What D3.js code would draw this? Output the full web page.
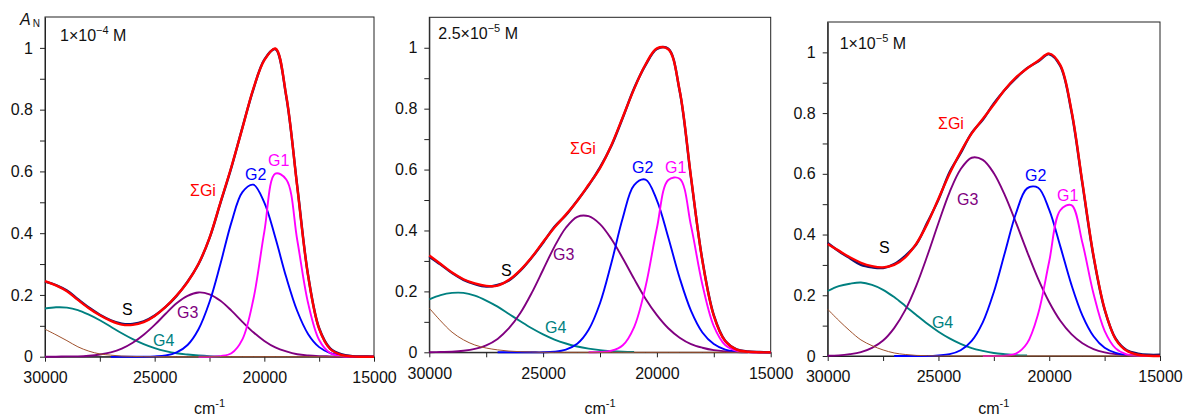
<!DOCTYPE html>
<html>
<head>
<meta charset="utf-8">
<script src="https://cdn.jsdelivr.net/npm/d3@7"></script>
<style>
  body { margin: 0; background: #fff; }
  text { font-family: "Liberation Sans", Arial, sans-serif; }
</style>
</head>
<body>
<script>
// wavenumber grid, cm-1
const xs = [30000, 29500, 29000, 28500, 28000, 27500, 27000, 26500, 26000, 25500,
  25000, 24500, 24000, 23500, 23000, 22500, 22000, 21500, 21000, 20500,
  20000, 19500, 19000, 18500, 18000, 17500, 17000, 16500, 16000, 15500, 15000];

const xTicks = [30000, 25000, 20000, 15000];
const xMinor = [27500, 22500, 17500];
const yTicks = [0, 0.2, 0.4, 0.6, 0.8, 1];
const yMinor = [0.1, 0.3, 0.5, 0.7, 0.9];

// 1e-4 M
const s1 = [0.243, 0.232, 0.214, 0.186, 0.159, 0.136, 0.118, 0.107, 0.106, 0.114, 0.133, 0.161, 0.197, 0.243, 0.300, 0.384, 0.498, 0.613, 0.742, 0.866, 0.962, 0.996, 0.842, 0.553, 0.262, 0.092, 0.027, 0.008, 0.002, 0.001, 0];
const sum1 = [0.245, 0.231, 0.212, 0.184, 0.157, 0.134, 0.116, 0.104, 0.103, 0.112, 0.132, 0.161, 0.198, 0.242, 0.301, 0.385, 0.500, 0.615, 0.740, 0.868, 0.960, 0.998, 0.845, 0.550, 0.260, 0.090, 0.025, 0.006, 0.001, 0, 0];
const g1_1 = [null, null, null, null, null, null, null, null, null, null, null, null, null, null, 0, 0, 0.002, 0.011, 0.056, 0.186, 0.405, 0.593, 0.574, 0.378, 0.172, 0.054, 0.012, 0.002, 0, 0, 0];
const g2_1 = [null, null, null, null, null, null, 0, 0, 0, 0, 0.001, 0.004, 0.014, 0.038, 0.089, 0.177, 0.301, 0.435, 0.533, 0.557, 0.499, 0.386, 0.257, 0.148, 0.073, 0.031, 0.012, 0.004, 0.001, 0, 0];
const g3_1 = [0, 0, 0.001, 0.001, 0.003, 0.007, 0.014, 0.026, 0.045, 0.071, 0.103, 0.139, 0.173, 0.197, 0.208, 0.202, 0.181, 0.149, 0.113, 0.079, 0.051, 0.030, 0.017, 0.008, 0.004, 0.002, 0.001, 0, 0, null, null];
const g4_1 = [0.156, 0.160, 0.159, 0.151, 0.136, 0.118, 0.097, 0.076, 0.057, 0.041, 0.028, 0.018, 0.011, 0.007, 0.004, 0.002, 0.001, null, null, null, null, null, null, null, null, null, null, null, null, null, null];
const br1 = [0.089, 0.071, 0.052, 0.032, 0.018, 0.009, 0.005, 0.002, 0.001, 0, 0, 0, 0, 0, 0, 0, 0, 0, 0, 0, 0, 0, 0, 0, 0, 0, 0, 0, 0, 0, 0];

// 2.5e-5 M
const s2 = [0.314, 0.288, 0.260, 0.238, 0.224, 0.216, 0.221, 0.236, 0.268, 0.311, 0.360, 0.412, 0.450, 0.498, 0.548, 0.607, 0.678, 0.770, 0.867, 0.943, 0.996, 0.997, 0.858, 0.572, 0.302, 0.122, 0.038, 0.010, 0.003, 0.001, 0];
const sum2 = [0.318, 0.290, 0.262, 0.240, 0.226, 0.218, 0.219, 0.238, 0.270, 0.312, 0.362, 0.410, 0.452, 0.497, 0.550, 0.605, 0.680, 0.772, 0.865, 0.945, 0.998, 0.995, 0.860, 0.575, 0.300, 0.120, 0.037, 0.009, 0.002, 0, 0];
const g1_2 = [null, null, null, null, null, null, null, null, null, null, null, null, null, null, 0, 0.001, 0.005, 0.023, 0.083, 0.215, 0.408, 0.566, 0.570, 0.415, 0.222, 0.086, 0.024, 0.005, 0.001, 0, 0];
const g2_2 = [null, null, null, null, null, null, 0, 0, 0, 0, 0, 0.002, 0.009, 0.028, 0.074, 0.161, 0.293, 0.441, 0.549, 0.567, 0.499, 0.377, 0.244, 0.136, 0.065, 0.027, 0.009, 0.003, 0.001, 0, 0];
const g3_2 = [0, 0.001, 0.002, 0.005, 0.011, 0.023, 0.044, 0.079, 0.129, 0.195, 0.271, 0.347, 0.409, 0.445, 0.447, 0.421, 0.372, 0.309, 0.241, 0.176, 0.122, 0.079, 0.048, 0.027, 0.015, 0.007, 0.003, 0.001, 0, null, null];
const g4_2 = [0.174, 0.188, 0.195, 0.195, 0.186, 0.170, 0.150, 0.126, 0.102, 0.079, 0.059, 0.042, 0.029, 0.019, 0.012, 0.007, 0.004, 0.002, 0.001, null, null, null, null, null, null, null, null, null, null, null, null];
const br2 = [0.145, 0.103, 0.066, 0.041, 0.024, 0.014, 0.008, 0.004, 0.002, 0.001, 0, 0, 0, 0, 0, 0, 0, 0, 0, 0, 0, 0, 0, 0, 0, 0, 0, 0, 0, 0, 0];

// 1e-5 M
const s3 = [0.372, 0.345, 0.322, 0.300, 0.292, 0.290, 0.303, 0.330, 0.368, 0.440, 0.515, 0.605, 0.668, 0.735, 0.778, 0.832, 0.877, 0.915, 0.948, 0.970, 0.994, 0.955, 0.806, 0.566, 0.327, 0.153, 0.057, 0.019, 0.008, 0.004, 0.004];
const sum3 = [0.369, 0.347, 0.325, 0.307, 0.296, 0.292, 0.300, 0.325, 0.370, 0.436, 0.518, 0.600, 0.672, 0.733, 0.781, 0.828, 0.878, 0.918, 0.947, 0.972, 0.996, 0.958, 0.810, 0.570, 0.330, 0.155, 0.055, 0.017, 0.004, 0.001, 0];
const g1_3 = [null, null, null, null, null, null, null, null, null, null, null, null, null, null, 0, 0, 0.001, 0.008, 0.042, 0.139, 0.312, 0.480, 0.497, 0.372, 0.205, 0.083, 0.025, 0.005, 0.001, 0, 0];
const g2_3 = [null, null, null, null, null, null, 0, 0, 0, 0, 0.002, 0.006, 0.019, 0.050, 0.111, 0.211, 0.341, 0.470, 0.552, 0.554, 0.481, 0.361, 0.235, 0.133, 0.065, 0.027, 0.010, 0.003, 0.001, 0, 0];
const g3_3 = [0.001, 0.002, 0.006, 0.013, 0.027, 0.051, 0.092, 0.151, 0.232, 0.331, 0.438, 0.539, 0.615, 0.653, 0.646, 0.602, 0.529, 0.439, 0.344, 0.254, 0.177, 0.116, 0.072, 0.042, 0.023, 0.012, 0.006, 0.003, 0.001, 0, null];
const g4_3 = [0.214, 0.230, 0.238, 0.242, 0.234, 0.218, 0.194, 0.165, 0.135, 0.106, 0.080, 0.058, 0.040, 0.026, 0.017, 0.010, 0.006, 0.003, 0.002, null, null, null, null, null, null, null, null, null, null, null, null];
const br3 = [0.154, 0.117, 0.083, 0.053, 0.034, 0.020, 0.010, 0.005, 0.002, 0.001, 0, 0, 0, 0, 0, 0, 0, 0, 0, 0, 0, 0, 0, 0, 0, 0, 0, 0, 0, 0, 0];

const concs = [['1×10', '−4'], ['2.5×10', '−5'], ['1×10', '−5']];

// curve labels, anchored in data coords [text, wavenumber, A]
const labels1 = [['S', 26489, 0.135], ['ΣGi', 23388, 0.521], ['G2', 20880, 0.572], ['G1', 19831, 0.618], ['G3', 23981, 0.125], ['G4', 25075, 0.035]];
const labels2 = [['S', 26850, 0.251], ['ΣGi', 23818, 0.652], ['G2', 21094, 0.59], ['G1', 19644, 0.59], ['G3', 24565, 0.304], ['G4', 24917, 0.063]];
const labels3 = [['S', 27684, 0.34], ['ΣGi', 25020, 0.748], ['G3', 24163, 0.498], ['G2', 21093, 0.577], ['G1', 19648, 0.511], ['G4', 25296, 0.092]];

// key order = drawing order
const style = {
  g4: { color: '#008080', w: 1.9 },
  g3: { color: '#800080', w: 1.9 },
  g2: { color: '#0000ff', w: 1.9 },
  g1: { color: '#ff00ff', w: 1.9 },
  br: { color: '#a0522d', w: 1 },
  s: { color: '#14146e', w: 2.4 },
  sum: { color: '#ff0000', w: 2.4 },
};
const labelColor = { S: '#000', 'ΣGi': '#ff0000', G1: '#ff00ff', G2: '#0000ff', G3: '#800080', G4: '#008080' };

const panels = [
  { box: [45, 374, 17, 356.7], conc: concs[0], concAt: [15, 24], labels: labels1,
    series: { g4: g4_1, g3: g3_1, g2: g2_1, g1: g1_1, br: br1, s: s1, sum: sum1 } },
  { box: [429.3, 770.7, 17.3, 352.3], conc: concs[1], concAt: [9, 22], labels: labels2,
    series: { g4: g4_2, g3: g3_2, g2: g2_2, g1: g1_2, br: br2, s: s2, sum: sum2 } },
  { box: [827.7, 1160, 22, 356], conc: concs[2], concAt: [12, 27], labels: labels3,
    series: { g4: g4_3, g3: g3_3, g2: g2_3, g1: g1_3, br: br3, s: s3, sum: sum3 } },
];

const svg = d3.select('body').append('svg')
  .attr('width', 1186)
  .attr('height', 418);

panels.forEach((p, i) => {
  const [left, right, top, bottom] = p.box;
  const x = d3.scaleLinear().domain([30000, 15000]).range([left, right]);
  const y = d3.scaleLinear().domain([0, 1.1]).range([bottom, top]);
  const g = svg.append('g');

  // frame
  g.append('rect')
    .attr('x', left).attr('y', top)
    .attr('width', right - left).attr('height', bottom - top)
    .attr('fill', 'none').attr('stroke', '#222').attr('stroke-width', 1);

  // minor ticks
  g.append('g').attr('transform', `translate(0,${bottom})`)
    .call(d3.axisBottom(x).tickValues(xMinor).tickSize(5).tickFormat(''))
    .call((a) => a.select('.domain').remove());
  g.append('g').attr('transform', `translate(${left},0)`)
    .call(d3.axisLeft(y).tickValues(yMinor).tickSize(5).tickFormat(''))
    .call((a) => a.select('.domain').remove());

  // major ticks
  g.append('g').attr('transform', `translate(0,${bottom})`)
    .call(d3.axisBottom(x).tickValues(xTicks).tickSize(5).tickPadding(10).tickSizeOuter(0)
      .tickFormat(d3.format('d')))
    .call((a) => a.selectAll('text').style('font-size', '16px').attr('fill', '#111'));
  g.append('g').attr('transform', `translate(${left},0)`)
    .call(d3.axisLeft(y).tickValues(yTicks).tickSize(5).tickPadding(7).tickSizeOuter(0)
      .tickFormat(d3.format('~g')))
    .call((a) => a.selectAll('text').style('font-size', '16px').attr('fill', '#111'));
  g.selectAll('.tick line, .domain').attr('stroke', '#222');

  // curves
  const line = d3.line()
    .defined((d) => d[1] != null)
    .x((d) => x(d[0]))
    .y((d) => y(d[1]))
    .curve(d3.curveCatmullRom.alpha(0.5));

  Object.keys(style).forEach((k) => {
    const vals = p.series[k];
    g.append('path')
      .datum(xs.map((v, j) => [v, vals[j]]))
      .attr('d', line)
      .attr('fill', 'none')
      .attr('stroke', style[k].color)
      .attr('stroke-width', style[k].w)
      .attr('stroke-linejoin', 'round');
  });

  // curve labels
  g.selectAll('text.lab')
    .data(p.labels)
    .enter()
    .append('text')
    .classed('lab', true)
    .attr('x', (d) => x(d[1]))
    .attr('y', (d) => y(d[2]))
    .attr('fill', (d) => labelColor[d[0]])
    .style('font-size', '16px')
    .text((d) => d[0]);

  // concentration
  const c = g.append('text')
    .attr('x', left + p.concAt[0])
    .attr('y', top + p.concAt[1])
    .style('font-size', '16px')
    .attr('fill', '#111');
  c.append('tspan').text(p.conc[0]);
  c.append('tspan').attr('dy', -7).style('font-size', '11px').text(p.conc[1]);
  c.append('tspan').attr('dy', 7).text(' M');

  // x axis title
  const t = g.append('text')
    .attr('x', (left + right) / 2)
    .attr('y', 414)
    .attr('text-anchor', 'middle')
    .style('font-size', '16px')
    .attr('fill', '#111');
  t.append('tspan').text('cm');
  t.append('tspan').attr('dy', -7).style('font-size', '11px').text('-1');

  if (i === 0) {
    const a = g.append('text').attr('x', 20).attr('y', 25).attr('fill', '#111');
    a.append('tspan').style('font-size', '16px').style('font-style', 'italic').text('A');
    a.append('tspan').attr('dx', 2).attr('dy', 2).style('font-size', '10px').text('N');
  }
});
</script>
</body>
</html>
